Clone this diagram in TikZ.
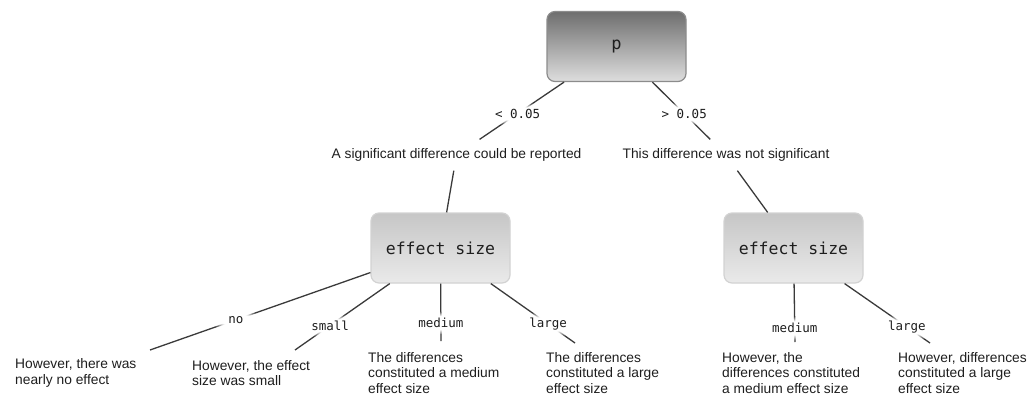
\documentclass[tikz,border=0pt]{standalone}
\usepackage{fontspec}
\setmainfont{Liberation Sans}
\newfontfamily\monofont{DejaVu Sans Mono}
\usetikzlibrary{fadings}
\definecolor{txt}{HTML}{1E1E1E}
\definecolor{edgegray}{HTML}{3A3A3A}
\definecolor{ptop}{HTML}{6E6E6E}
\definecolor{pbot}{HTML}{DEDEDE}
\definecolor{pline}{HTML}{8C8C8C}
\definecolor{estop}{HTML}{C6C6C6}
\definecolor{esbot}{HTML}{EAEAEA}
\definecolor{esline}{HTML}{D2D2D2}
\pgfdeclareradialshading{haloshade}{\pgfpointorigin}{color(0bp)=(pgftransparent!0); color(14bp)=(pgftransparent!0); color(25bp)=(pgftransparent!100); color(50bp)=(pgftransparent!100)}
\pgfdeclarefading{halo}{\pgfuseshading{haloshade}}
\begin{document}
\begin{tikzpicture}[x=1pt, y=-1pt,
    box/.style={rounded corners=8pt, line width=1.2pt, minimum width=139pt, minimum height=70pt, text=txt},
    pbox/.style={box, draw=pline, top color=ptop, bottom color=pbot, font=\monofont\fontsize{17}{20}\selectfont},
    esbox/.style={box, draw=esline, top color=estop, bottom color=esbot, font=\monofont\fontsize{16.5}{20}\selectfont},
    note/.style={text=txt, font=\fontsize{13.8}{16}\selectfont, inner xsep=0pt, inner ysep=9pt},
    leaf/.style={text=txt, font=\fontsize{13.8}{15.5}\selectfont, align=left, inner sep=0pt, anchor=west},
    edge/.style={draw=edgegray, line width=1.3pt},
    lbl/.style={text=txt, font=\monofont\fontsize{12.5}{14}\selectfont, inner xsep=20pt, inner ysep=7pt,
        preaction={fill=white, path fading=halo}}]
    \useasboundingbox (0,0) rectangle (1027,396);
    % decision boxes
    \node[pbox] (p) at (616.5,46.5) {p};
    \node[note] (sig) at (456.5,155) {A significant difference could be reported};
    \node[note] (nsig) at (726,155) {This difference was not significant};
    \node[esbox] (esL) at (440.5,248) {effect size};
    \node[esbox] (esR) at (793.5,248) {effect size};
    % leaves
    \node[leaf] (lfno) at (15,373) {However, there was\\nearly no effect};
    \node[leaf] (lfsmall) at (192,373) {However, the effect\\size was small};
    \node[leaf] (lfmedL) at (368,373) {The differences\\constituted a medium\\effect size};
    \node[leaf] (lflargeL) at (546,373) {The differences\\constituted a large\\effect size};
    \node[leaf] (lfmedR) at (722,373) {However, the\\differences constituted\\a medium effect size};
    \node[leaf] (lflargeR) at (898,373) {However, differences\\constituted a large\\effect size};
    \coordinate (noend) at (150,350);
    \coordinate (smallend) at (295,350);
    \coordinate (medLend) at (441,341);
    \coordinate (largeLend) at (575,343);
    \coordinate (medRend) at (795,342);
    \coordinate (largeRend) at (930,343);
    % connectors
    \draw[edge] (p) -- node[lbl, pos=.55] {< 0.05} (sig);
    \draw[edge] (p) -- node[lbl, pos=.55] {> 0.05} (nsig);
    \draw[edge] (sig) -- (esL);
    \draw[edge] (nsig) -- (esR);
    \draw[edge] (esL) -- node[lbl, pos=.61] {no} (noend);
    \draw[edge] (esL) -- node[lbl, pos=.63] {small} (smallend);
    \draw[edge] (esL) -- node[lbl, pos=.68] {medium} (medLend);
    \draw[edge] (esL) -- node[lbl, pos=.68] {large} (largeLend);
    \draw[edge] (esR) -- node[lbl, pos=.76] {medium} (medRend);
    \draw[edge] (esR) -- node[lbl, pos=.73] {large} (largeRend);
\end{tikzpicture}
\end{document}
